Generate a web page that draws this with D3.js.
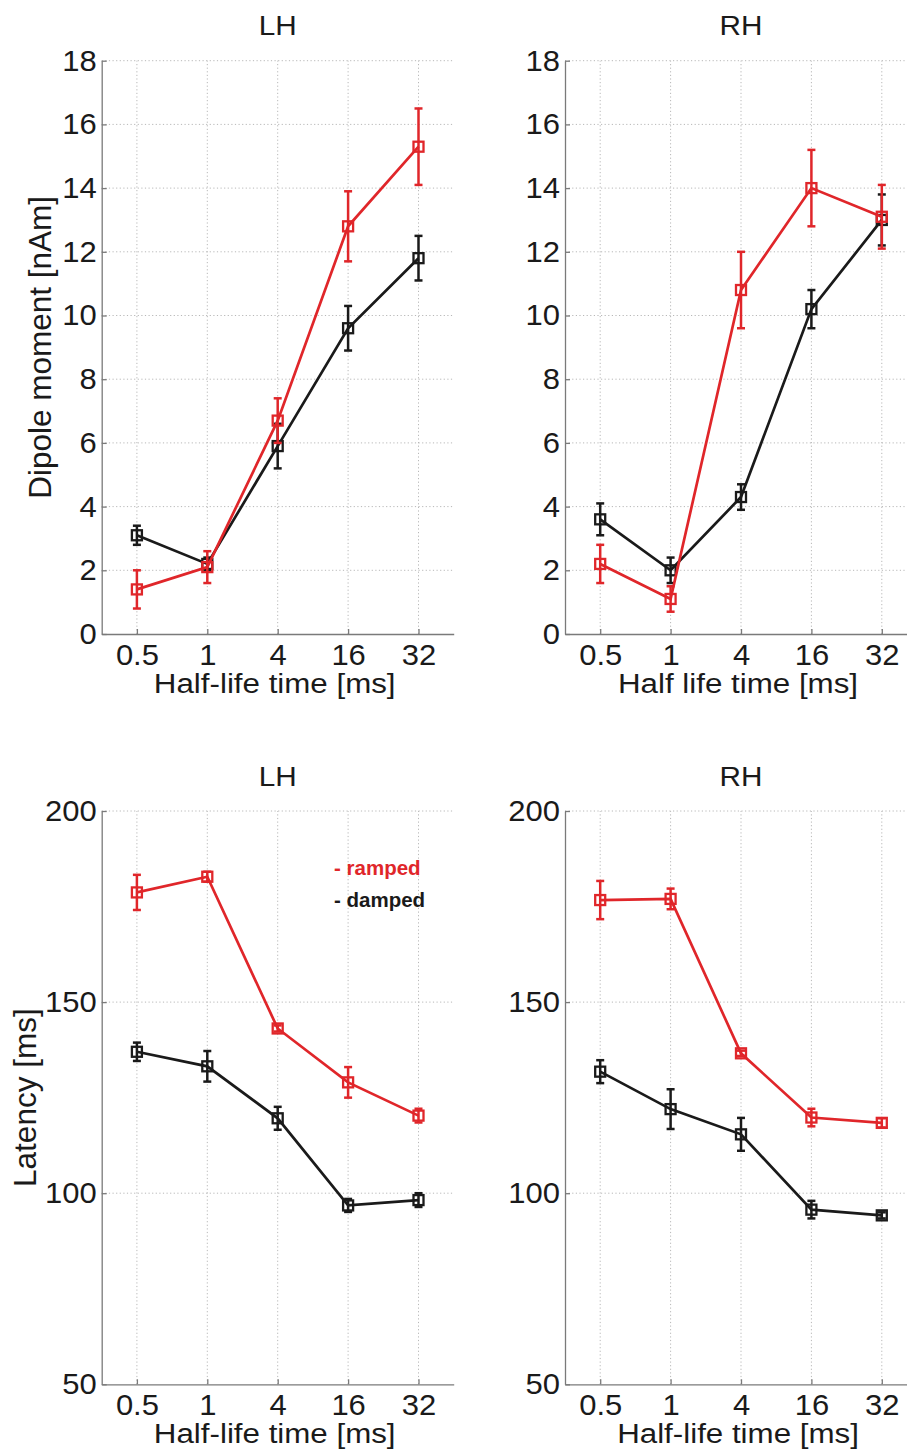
<!DOCTYPE html>
<html>
<head>
<meta charset="utf-8">
<script src="https://cdn.jsdelivr.net/npm/d3@7"></script>
<style>
  html, body { margin: 0; padding: 0; background: #fff; }
  svg { display: block; font-family: "Liberation Sans", Arial, sans-serif; }
</style>
</head>
<body>
<svg id="chart" width="907" height="1452"></svg>
<script>
// ---------- DATA ----------
const categories = ["0.5", "1", "4", "16", "32"];

const dipoleTicks = [0, 2, 4, 6, 8, 10, 12, 14, 16, 18];
const latencyTicks = [50, 100, 150, 200];

// Dipole moment [nAm], LH
const dipoleLH_ramped     = [1.4, 2.1, 6.7, 12.8, 15.3];
const dipoleLH_rampedErr  = [0.6, 0.5, 0.7, 1.1, 1.2];
const dipoleLH_damped     = [3.1, 2.2, 5.9, 9.6, 11.8];
const dipoleLH_dampedErr  = [0.3, 0.2, 0.7, 0.7, 0.7];

// Dipole moment [nAm], RH
const dipoleRH_ramped     = [2.2, 1.1, 10.8, 14.0, 13.1];
const dipoleRH_rampedErr  = [0.6, 0.4, 1.2, 1.2, 1.0];
const dipoleRH_damped     = [3.6, 2.0, 4.3, 10.2, 13.0];
const dipoleRH_dampedErr  = [0.5, 0.4, 0.4, 0.6, 0.8];

// Latency [ms], LH
const latencyLH_ramped    = [178.7, 182.8, 143.1, 129.0, 120.3];
const latencyLH_rampedErr = [4.6, 1.3, 0.8, 4.0, 1.8];
const latencyLH_damped    = [137.0, 133.2, 119.6, 96.8, 98.2];
const latencyLH_dampedErr = [2.4, 4.0, 3.0, 1.7, 1.8];

// Latency [ms], RH
const latencyRH_ramped    = [176.7, 177.0, 136.6, 119.8, 118.4];
const latencyRH_rampedErr = [5.0, 2.7, 0.7, 2.3, 1.2];
const latencyRH_damped    = [131.8, 122.0, 115.4, 95.7, 94.2];
const latencyRH_dampedErr = [3.0, 5.2, 4.3, 2.3, 0.8];

const seriesColors = { ramped: "#e0262a", damped: "#1a1a1a" };
const legendLabels = ["- ramped", "- damped"];

// ---------- LAYOUT ----------
const svg = d3.select("#chart");

const panels = [
  { title: "LH", xLabel: "Half-life time [ms]", yLabel: "Dipole moment [nAm]",
    x0: 101.7, x1: 453.7, y0: 634, y1: 60.7, domain: [0, 18], ticks: dipoleTicks,
    ramped: dipoleLH_ramped, rampedErr: dipoleLH_rampedErr,
    damped: dipoleLH_damped, dampedErr: dipoleLH_dampedErr, yLabelX: 40, legend: false },
  { title: "RH", xLabel: "Half life time [ms]", yLabel: null,
    x0: 565, x1: 917, y0: 634, y1: 60.7, domain: [0, 18], ticks: dipoleTicks,
    ramped: dipoleRH_ramped, rampedErr: dipoleRH_rampedErr,
    damped: dipoleRH_damped, dampedErr: dipoleRH_dampedErr, legend: false },
  { title: "LH", xLabel: "Half-life time [ms]", yLabel: "Latency [ms]",
    x0: 101.7, x1: 453.7, y0: 1384.3, y1: 811, domain: [50, 200], ticks: latencyTicks,
    ramped: latencyLH_ramped, rampedErr: latencyLH_rampedErr,
    damped: latencyLH_damped, dampedErr: latencyLH_dampedErr, yLabelX: 25, legend: true },
  { title: "RH", xLabel: "Half-life time [ms]", yLabel: null,
    x0: 565, x1: 917, y0: 1384.3, y1: 811, domain: [50, 200], ticks: latencyTicks,
    ramped: latencyRH_ramped, rampedErr: latencyRH_rampedErr,
    damped: latencyRH_damped, dampedErr: latencyRH_dampedErr, legend: false }
];

const textColor = "#1a1a1a";
const axisColor = "#7a7a7a";
const gridColor = "#b8b8b8";

panels.forEach(p => {
  const x = d3.scaleLinear().domain([0.5, categories.length + 0.5]).range([p.x0, p.x1]);
  const y = d3.scaleLinear().domain(p.domain).range([p.y0, p.y1]);
  const idx = categories.map((c, i) => i + 1);
  const g = svg.append("g");

  // grid
  g.append("g").selectAll("line").data(p.ticks.filter(t => t !== p.domain[0])).join("line")
    .attr("x1", p.x0).attr("x2", p.x1)
    .attr("y1", d => y(d)).attr("y2", d => y(d))
    .attr("stroke", gridColor).attr("stroke-width", 1).attr("stroke-dasharray", "1.2,2.4");
  g.append("g").selectAll("line").data(idx).join("line")
    .attr("x1", d => x(d)).attr("x2", d => x(d))
    .attr("y1", p.y0).attr("y2", p.y1)
    .attr("stroke", gridColor).attr("stroke-width", 1).attr("stroke-dasharray", "1.2,2.4");

  // axes
  const yAxis = d3.axisLeft(y).tickValues(p.ticks).tickSizeInner(-5).tickSizeOuter(0).tickPadding(5);
  const ya = g.append("g").attr("transform", `translate(${p.x0},0)`).call(yAxis);
  const xAxis = d3.axisBottom(x).tickValues(idx).tickFormat(d => categories[d - 1])
    .tickSizeInner(-5).tickSizeOuter(0).tickPadding(10);
  const xa = g.append("g").attr("transform", `translate(0,${p.y0})`).call(xAxis);
  [ya, xa].forEach(a => {
    a.select(".domain").attr("stroke", axisColor).attr("stroke-width", 1.3);
    a.selectAll(".tick line").attr("stroke", axisColor).attr("stroke-width", 1.3);
    a.selectAll(".tick text").attr("fill", textColor)
      .style("font-size", "29.5px").style("font-family", "'Liberation Sans', Arial, sans-serif");
  });
  ya.selectAll(".tick text").attr("x", null).attr("transform", "translate(-5,0) scale(1.05,1)");
  xa.selectAll(".tick text").attr("transform", "scale(1.05,1)");

  // title
  const cx = (p.x0 + p.x1) / 2;
  g.append("text").attr("transform", `translate(${cx},${p.y1 - 25.5}) scale(1.08,1)`)
    .attr("text-anchor", "middle").attr("fill", textColor)
    .style("font-size", "27.5px").text(p.title);

  // x label
  g.append("text").attr("transform", `translate(${cx - 3},${p.y0 + 59}) scale(1.16,1)`)
    .attr("text-anchor", "middle").attr("fill", textColor)
    .style("font-size", "27px").text(p.xLabel);

  // y label
  if (p.yLabel) {
    g.append("text")
      .attr("transform", `translate(${p.yLabelX + 11},${(p.y0 + p.y1) / 2}) rotate(-90)`)
      .attr("text-anchor", "middle").attr("fill", textColor)
      .style("font-size", "31.5px").text(p.yLabel);
  }

  // series
  const series = [
    { key: "damped", vals: p.damped, errs: p.dampedErr },
    { key: "ramped", vals: p.ramped, errs: p.rampedErr }
  ];
  const line = d3.line().x((d, i) => x(i + 1)).y(d => y(d));
  series.forEach(s => {
    const col = seriesColors[s.key];
    const sg = g.append("g");
    sg.append("path").datum(s.vals).attr("d", line)
      .attr("fill", "none").attr("stroke", col).attr("stroke-width", 2.7);
    const pts = s.vals.map((v, i) => ({ i: i + 1, v, e: s.errs[i] }));
    const eb = sg.append("g").selectAll("g").data(pts).join("g");
    eb.append("line").attr("x1", d => x(d.i)).attr("x2", d => x(d.i))
      .attr("y1", d => y(d.v - d.e)).attr("y2", d => y(d.v + d.e))
      .attr("stroke", col).attr("stroke-width", 2.5);
    [-1, 1].forEach(sgn => {
      eb.append("line").attr("x1", d => x(d.i) - 4).attr("x2", d => x(d.i) + 4)
        .attr("y1", d => y(d.v + sgn * d.e)).attr("y2", d => y(d.v + sgn * d.e))
        .attr("stroke", col).attr("stroke-width", 2.5);
    });
    sg.append("g").selectAll("rect").data(pts).join("rect")
      .attr("x", d => x(d.i) - 5).attr("y", d => y(d.v) - 5)
      .attr("width", 10).attr("height", 10)
      .attr("fill", "none").attr("stroke", col).attr("stroke-width", 2.3);
  });

  // legend
  if (p.legend) {
    const lg = g.append("g");
    lg.selectAll("text").data(legendLabels).join("text")
      .attr("x", 334).attr("y", (d, i) => 875 + i * 32)
      .attr("fill", (d, i) => i === 0 ? seriesColors.ramped : seriesColors.damped)
      .style("font-size", "20.5px").style("font-weight", "bold")
      .text(d => d);
  }
});
</script>
</body>
</html>
